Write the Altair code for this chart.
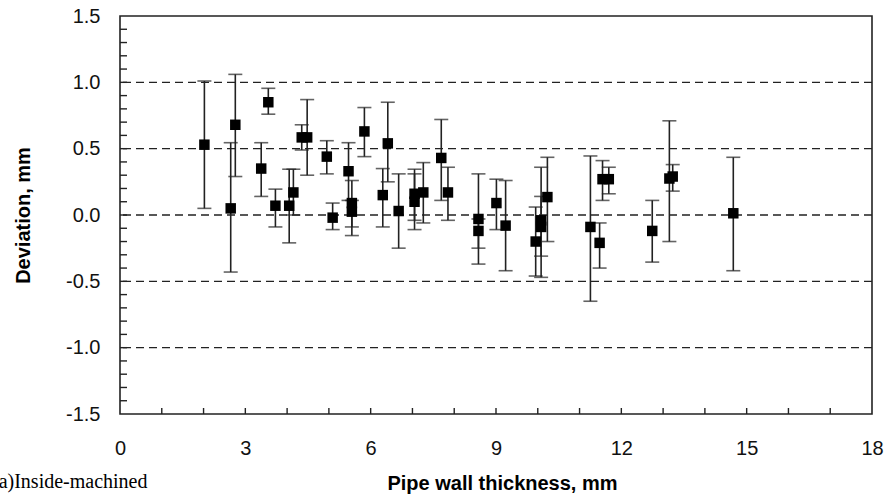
import altair as alt
import pandas as pd

# Data
thickness = [2.02, 2.76, 2.65, 3.55, 3.38, 3.72, 4.05, 4.15, 4.35, 4.48,
             4.95, 5.09, 5.47, 5.55, 5.55, 5.85, 6.41, 6.29, 6.67, 7.05,
             7.05, 7.26, 7.69, 7.85, 8.58, 8.58, 9.01, 9.23, 9.95, 10.08,
             10.08, 10.23, 11.26, 11.48, 11.55, 11.70, 12.74, 13.15, 13.23, 14.68]
deviation = [0.53, 0.68, 0.05, 0.85, 0.35, 0.07, 0.07, 0.17, 0.585, 0.585,
             0.44, -0.02, 0.33, 0.09, 0.025, 0.63, 0.54, 0.15, 0.03, 0.16,
             0.10, 0.17, 0.43, 0.17, -0.03, -0.12, 0.09, -0.08, -0.20, -0.04,
             -0.09, 0.135, -0.09, -0.21, 0.27, 0.27, -0.12, 0.275, 0.29, 0.013]
err_low = [0.05, 0.29, -0.43, 0.76, 0.14, -0.09, -0.21, 0.0, 0.49, 0.30,
           0.31, -0.11, 0.11, -0.155, -0.09, 0.44, 0.25, -0.09, -0.25, -0.04,
           -0.11, -0.06, 0.11, -0.04, -0.37, -0.25, -0.11, -0.42, -0.46, -0.47,
           -0.31, -0.20, -0.65, -0.40, 0.11, 0.16, -0.355, -0.20, 0.18, -0.42]
err_high = [1.01, 1.06, 0.545, 0.955, 0.545, 0.195, 0.345, 0.345, 0.68, 0.87,
            0.56, 0.09, 0.545, 0.26, 0.11, 0.81, 0.85, 0.35, 0.31, 0.345,
            0.31, 0.395, 0.72, 0.36, 0.31, -0.03, 0.27, 0.26, 0.06, 0.36,
            0.14, 0.435, 0.445, -0.06, 0.41, 0.36, 0.11, 0.71, 0.38, 0.435]

x_tick_values = [0, 3, 6, 9, 12, 15, 18]
y_tick_values = [-1.5, -1.0, -0.5, 0.0, 0.5, 1.0, 1.5]
grid_values = [-1.0, -0.5, 0.0, 0.5, 1.0]
x_minor = [1, 2, 3, 4, 5, 6, 7, 8, 9, 10, 11, 12, 13, 14, 15, 16, 17]
y_minor = [-1.4, -1.3, -1.2, -1.1, -1.0, -0.9, -0.8, -0.7, -0.6, -0.5, -0.4,
           -0.3, -0.2, -0.1, 0.0, 0.1, 0.2, 0.3, 0.4, 0.5, 0.6, 0.7, 0.8,
           0.9, 1.0, 1.1, 1.2, 1.3, 1.4]

df = pd.DataFrame({"x": thickness, "y": deviation, "lo": err_low, "hi": err_high})
grid_df = pd.DataFrame({"g": grid_values})
xminor_df = pd.DataFrame({"xm": x_minor})
yminor_df = pd.DataFrame({"ym": y_minor})

W, H = 752, 398
FONT = "Liberation Sans"

xscale = alt.Scale(domain=[0, 18], nice=False, zero=False)
yscale = alt.Scale(domain=[-1.5, 1.5], nice=False, zero=False)

xaxis = alt.Axis(values=x_tick_values, title="Pipe wall thickness, mm", grid=False,
                 ticks=False, tickSize=0, domain=False, labelPadding=24,
                 labelFont=FONT, labelFontSize=20, labelColor="#111111",
                 titleFont=FONT, titleFontSize=20, titleFontWeight="bold",
                 titleColor="black", titleY=69, titleBaseline="middle",
                 titleX=382, labelFlush=False)
yaxis = alt.Axis(values=y_tick_values, title="Deviation, mm", grid=False,
                 ticks=False, tickSize=0, domain=False, labelPadding=20,
                 labelFont=FONT, labelFontSize=20, labelColor="#111111",
                 labelExpr="datum.value < 0 ? '-' + format(-datum.value, '.1f') : format(datum.value, '.1f')",
                 titleFont=FONT, titleFontSize=20, titleFontWeight="bold",
                 titleColor="black", titleX=-97, titleY=199,
                 titleBaseline="middle", titleAlign="center", labelFlush=False)

base = alt.Chart(df)

grid = alt.Chart(grid_df).mark_rule(color="#222222", strokeWidth=1.4,
                                     strokeDash=[8, 5]).encode(
    y=alt.Y("g:Q", scale=yscale, axis=yaxis)
)

xticks = alt.Chart(xminor_df).mark_rule(color="#222222", strokeWidth=1.4).encode(
    x=alt.X("xm:Q", scale=xscale, axis=xaxis),
    y=alt.value(H),
    y2=alt.value(H - 6),
)

yticks = alt.Chart(yminor_df).mark_rule(color="#222222", strokeWidth=1.4).encode(
    y=alt.Y("ym:Q", scale=yscale, axis=yaxis),
    x=alt.value(0),
    x2=alt.value(7),
)

bars = base.mark_rule(color="#222222", strokeWidth=1.6).encode(
    x=alt.X("x:Q", scale=xscale, axis=xaxis),
    y=alt.Y("lo:Q", scale=yscale, axis=yaxis),
    y2="hi:Q",
)

caps = base.transform_fold(["lo", "hi"], as_=["end", "v"]).mark_tick(
    color="#222222", thickness=1.6, size=14, orient="horizontal").encode(
    x=alt.X("x:Q", scale=xscale, axis=xaxis),
    y=alt.Y("v:Q", scale=yscale, axis=yaxis),
)

points = base.mark_square(color="black", opacity=1, size=110).encode(
    x=alt.X("x:Q", scale=xscale, axis=xaxis),
    y=alt.Y("y:Q", scale=yscale, axis=yaxis),
)

note = alt.Chart(pd.DataFrame({"t": ["(a)Inside-machined"]})).mark_text(
    font="Liberation Serif", fontSize=20, align="left", baseline="middle",
    color="black").encode(
    text="t:N", x=alt.value(-128), y=alt.value(466)
)

chart = alt.layer(grid, xticks, yticks, bars, caps, points, note).properties(
    width=W, height=H,
    padding={"left": 120, "top": 16, "right": 16, "bottom": 85},
    autosize=alt.AutoSizeParams(type="none"),
    background="white",
).configure_view(stroke="#222222", strokeWidth=1.6)

chart.save("out.html", embed_options={"renderer": "svg", "actions": False})
